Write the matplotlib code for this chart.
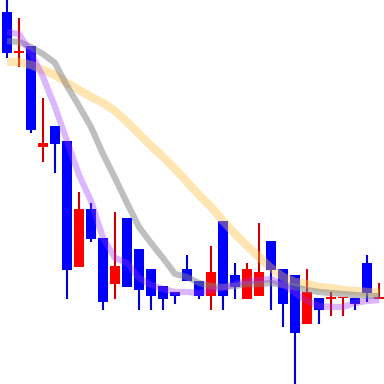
import numpy as np
import matplotlib
matplotlib.use("Agg")
import matplotlib.pyplot as plt

# candle data (one entry per session)
opens = [372, 331, 338, 237, 258, 243, 117, 175, 146, 100, 166, 135, 115, 98, 92, 115,
         103, 88, 163, 109, 85, 88, 143, 115, 109, 60, 86, 85, 86, 86, 121, 85]
closes = [331, 333, 254, 241, 240, 114, 175, 145, 82, 118, 97, 94, 88, 85, 88, 103,
          88, 112, 88, 97, 115, 112, 114, 80, 51, 92, 74, 87, 87, 80, 91, 87]
highs = [384, 366, 338, 286, 258, 243, 192, 181, 146, 172, 166, 135, 115, 98, 92, 129,
         103, 138, 163, 121, 121, 161, 143, 115, 109, 115, 86, 92, 87, 86, 129, 101]
lows = [326, 317, 251, 222, 211, 85, 117, 142, 74, 85, 97, 74, 74, 74, 80, 103,
        85, 74, 74, 85, 85, 88, 74, 57, 0, 60, 60, 68, 68, 74, 82, 85]

# moving average overlays
ma_fast = [352, 350, 331, 307, 277, 243, 209, 183, 146, 126, 121, 106, 99, 95, 92, 92,
           91, 94, 96, 100, 103, 104, 105, 99, 91, 83, 78, 77, 77, 81, 83, 84]
ma_mid = [343, 342, 337, 330, 321, 298, 278, 257, 230, 206, 181, 157, 141, 126, 110, 107,
          101, 98, 97, 98, 100, 100, 101, 99, 97, 94, 92, 91, 90, 89, 88, 88]
ma_slow = [322, 322, 319, 314, 309, 301, 294, 287, 281, 273, 262, 250, 238, 227, 215, 202,
           189, 177, 163, 150, 138, 127, 116, 107, 102, 100, 97, 96, 94, 93, 92, 91]

n = len(opens)
x = np.arange(n)

fig = plt.figure(figsize=(3.84, 3.84), dpi=100)
ax = fig.add_axes([0, 0, 1, 1])

for i in range(n):
    up = closes[i] > opens[i]
    body_col = "#ff0000" if up else "#0000ff"
    wick_col = "#cc0000" if up else "#0000cc"
    ax.vlines(x[i], lows[i], highs[i], color=wick_col, linewidth=1.5, zorder=1)
    ax.bar(x[i], closes[i] - opens[i], bottom=opens[i], width=10 / 12,
           color=body_col, linewidth=0, zorder=2)

ax.plot(x, ma_slow, color="#ffc040", alpha=0.4, linewidth=6, solid_capstyle="butt", zorder=3)
ax.plot(x, ma_mid, color="#808080", alpha=0.5, linewidth=4.5, solid_capstyle="butt", zorder=4)
ax.plot(x, ma_fast, color="#9933ff", alpha=0.35, linewidth=4.5, solid_capstyle="butt", zorder=5)

ax.set_xlim(-7 / 12, n - 7 / 12)
ax.set_ylim(min(lows), max(highs))
ax.axis("off")

fig.savefig("out.png", dpi=100, facecolor="white")
plt.close(fig)
